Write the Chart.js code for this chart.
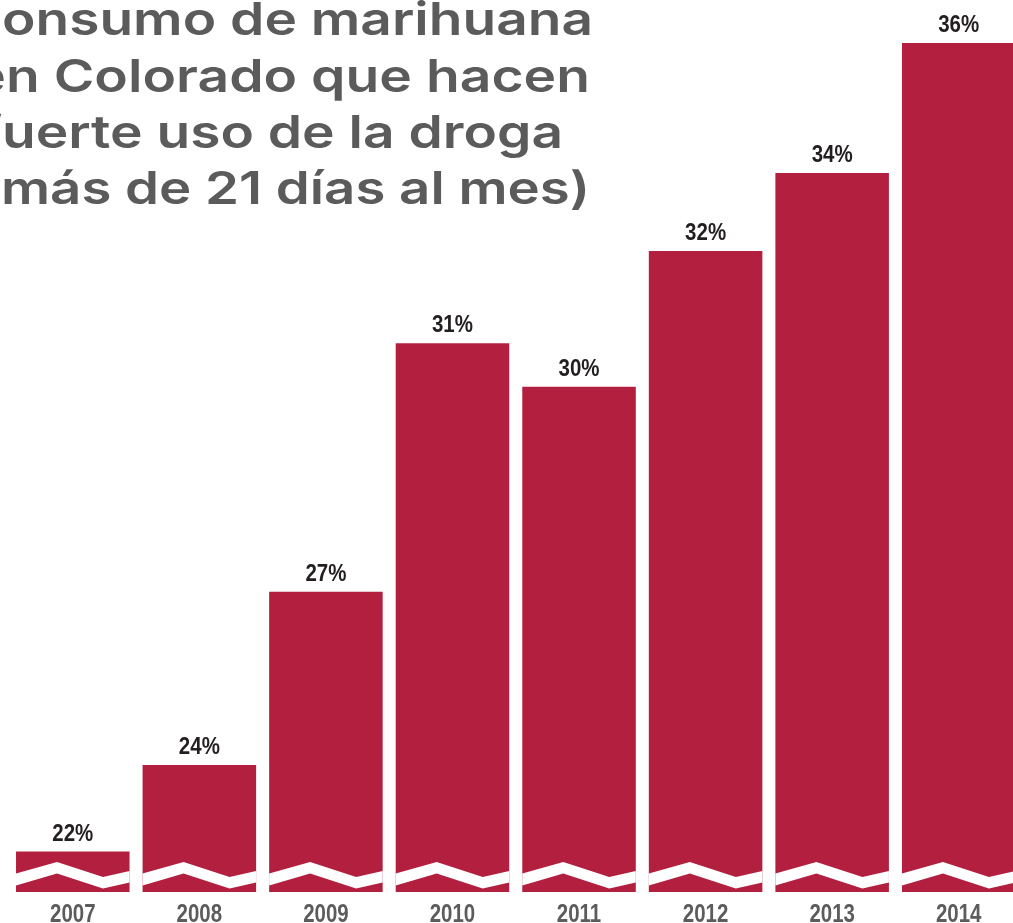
<!DOCTYPE html>
<html>
<head>
<meta charset="utf-8">
<script src="https://cdn.jsdelivr.net/npm/chart.js@4/dist/chart.umd.min.js"></script>
<style>
  html, body { margin: 0; padding: 0; background: #fff; overflow: hidden; }
  #wrap { width: 1013px; height: 923px; overflow: hidden; position: relative; }
  #chart { display: block; }
</style>
</head>
<body>
<div id="wrap"><canvas id="chart" width="1022" height="923"></canvas></div>
<script>
const years = ["2007", "2008", "2009", "2010", "2011", "2012", "2013", "2014"];
// bar heights (axis is broken, starts above zero)
const shares = [22.0, 23.5, 26.5, 30.8, 30.05, 32.4, 33.75, 36.0];
const shareLabels = ["22%", "24%", "27%", "31%", "30%", "32%", "34%", "36%"];
const titleLines = [
  "consumo de marihuana",
  "en Colorado que hacen",
  "fuerte uso de la droga",
  "(más de 21 días al mes)"
];

const BAR_RED = "#b3203f";
const LABEL_FONT = 'bold 24px "Liberation Sans", Arial, sans-serif';
const YEAR_FONT = 'bold 25.5px "Liberation Sans", Arial, sans-serif';

// draw text squeezed horizontally (the original uses a condensed gothic)
function narrowText(ctx, text, x, y, sx) {
  ctx.save();
  ctx.translate(x, y);
  ctx.scale(sx, 1);
  ctx.fillText(text, 0, 0);
  ctx.restore();
}

// white zigzag "break" across the foot of every bar, value labels, year labels
const barDecor = {
  id: "barDecor",
  afterDatasetsDraw(chart) {
    const ctx = chart.ctx;
    const meta = chart.getDatasetMeta(0);
    const base = chart.chartArea.bottom;
    const xScale = chart.scales.x;
    ctx.save();

    ctx.font = LABEL_FONT;
    const labelSx = 41 / ctx.measureText("22%").width;
    ctx.font = YEAR_FONT;
    const yearSx = 45.5 / ctx.measureText("2007").width;

    meta.data.forEach((bar, i) => {
      const { x, y, width } = bar.getProps(["x", "y", "width"], true);
      const left = x - width / 2;
      const right = x + width / 2;

      ctx.beginPath();
      ctx.moveTo(left, base - 18.5);
      ctx.lineTo(left + 41, base - 30);
      ctx.lineTo(left + 87, base - 15);
      ctx.lineTo(right, base - 21);
      ctx.lineTo(right, base - 9.5);
      ctx.lineTo(left + 87, base - 3.5);
      ctx.lineTo(left + 41, base - 18.5);
      ctx.lineTo(left, base - 6.5);
      ctx.closePath();
      ctx.fillStyle = "#ffffff";
      ctx.fill();

      ctx.textAlign = "center";
      ctx.textBaseline = "alphabetic";
      ctx.fillStyle = "#231f20";
      ctx.font = LABEL_FONT;
      narrowText(ctx, shareLabels[i], x, y - 11, labelSx);
    });

    // category labels, placed by the x scale
    ctx.fillStyle = "#5c5c5c";
    ctx.font = YEAR_FONT;
    ctx.textAlign = "center";
    xScale.ticks.forEach((t, i) => {
      narrowText(ctx, xScale.getLabelForValue(t.value), xScale.getPixelForTick(i), 921.5, yearSx);
    });
    ctx.restore();
  }
};

// big grey headline, cut off at the left edge like the original
const headline = {
  id: "headline",
  afterDraw(chart) {
    const ctx = chart.ctx;
    // where the first fully visible letter starts / where each line ends
    const starts = [2, 6, 2, 1];
    const ends = [593, 590, 563, 590];
    const baselines = [35, 92, 148, 204];
    ctx.save();
    ctx.font = "600 45px Inter";
    ctx.fillStyle = "#5b5b5b";
    ctx.textAlign = "right";
    ctx.textBaseline = "alphabetic";
    titleLines.forEach((line, i) => {
      const sx = (ends[i] - starts[i]) / ctx.measureText(line.slice(1)).width;
      narrowText(ctx, line, ends[i], baselines[i], sx);
    });
    ctx.restore();
  }
};

new Chart(document.getElementById("chart"), {
  type: "bar",
  data: {
    labels: years,
    datasets: [{
      data: shares,
      backgroundColor: BAR_RED,
      borderWidth: 0,
      barPercentage: 0.897,
      categoryPercentage: 1.0
    }]
  },
  options: {
    responsive: false,
    animation: false,
    events: [],
    layout: { padding: { top: 43, left: 9.5, right: 0, bottom: 31 } },
    plugins: {
      legend: { display: false },
      tooltip: { enabled: false }
    },
    scales: {
      x: {
        grid: { display: false, drawTicks: false },
        border: { display: false },
        ticks: { display: false }
      },
      y: {
        display: false,
        min: 21.3,
        max: 36
      }
    }
  },
  plugins: [barDecor, headline]
});
</script>
</body>
</html>
